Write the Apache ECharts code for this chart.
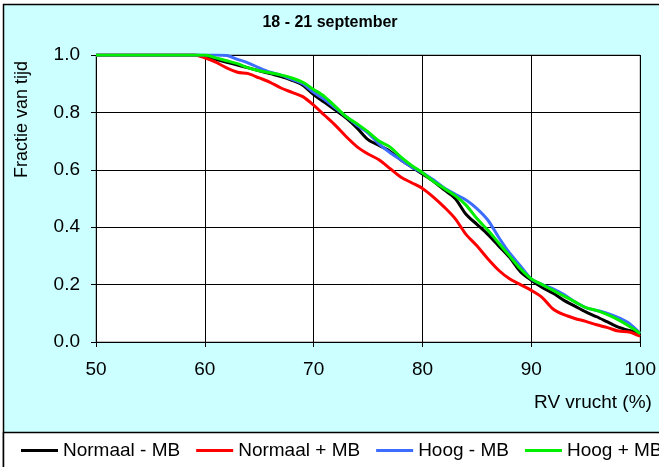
<!DOCTYPE html>
<html><head><meta charset="utf-8">
<script src="https://cdn.jsdelivr.net/npm/echarts@6/dist/echarts.min.js"></script>
<style>html,body{margin:0;padding:0;background:#fff}#c{width:659px;height:467px}</style>
</head><body><div id="c"></div>
<script>
const xValues = [50,51,52,53,54,55,56,57,58,59,60,61,62,63,64,65,66,67,68,69,70,71,72,73,74,75,76,77,78,79,80,81,82,83,84,85,86,87,88,89,90,91,92,93,94,95,96,97,98,99,100];
const normaalMin = [1,1,1,1,1,1,1,1,1,1,0.995,0.985,0.975,0.965,0.955,0.945,0.935,0.925,0.912,0.895,0.862,0.835,0.808,0.78,0.745,0.705,0.685,0.665,0.635,0.61,0.585,0.56,0.53,0.50,0.445,0.41,0.375,0.335,0.295,0.245,0.215,0.19,0.17,0.145,0.125,0.105,0.088,0.07,0.052,0.04,0.03];
const normaalPlus = [1,1,1,1,1,1,1,1,1,1,0.99,0.975,0.955,0.94,0.935,0.92,0.905,0.885,0.87,0.855,0.825,0.79,0.755,0.715,0.68,0.655,0.635,0.605,0.575,0.555,0.535,0.505,0.47,0.43,0.375,0.335,0.29,0.25,0.22,0.2,0.18,0.155,0.115,0.095,0.082,0.072,0.06,0.05,0.038,0.035,0.02];
const hoogMin = [1,1,1,1,1,1,1,1,1,1,1,1,0.998,0.985,0.972,0.955,0.94,0.93,0.915,0.9,0.87,0.845,0.815,0.785,0.755,0.728,0.69,0.66,0.635,0.61,0.59,0.565,0.537,0.515,0.495,0.465,0.425,0.365,0.31,0.265,0.22,0.2,0.185,0.165,0.14,0.12,0.11,0.1,0.085,0.065,0.03];
const hoogPlus = [1,1,1,1,1,1,1,1,1,1,1,0.99,0.98,0.97,0.955,0.945,0.938,0.93,0.92,0.905,0.88,0.855,0.82,0.785,0.76,0.732,0.7,0.68,0.645,0.615,0.59,0.56,0.535,0.51,0.477,0.43,0.39,0.345,0.3,0.255,0.22,0.2,0.18,0.16,0.14,0.12,0.11,0.095,0.077,0.055,0.03];
const seriesNames = ['Normaal - MB','Normaal + MB','Hoog - MB','Hoog + MB'];
const seriesColors = ['#000000','#FF0000','#3D6DFF','#00EE00'];
const seriesData = [normaalMin, normaalPlus, hoogMin, hoogPlus];
const titleText = '18 - 21 september';
const yName = 'Fractie van tijd';
const xName = 'RV vrucht (%)';

const font = 'Arial, "Liberation Sans", sans-serif';
const chart = echarts.init(document.getElementById('c'), null, {renderer:'canvas'});
chart.setOption({
  backgroundColor:'#fff',
  animation:false,
  graphic:[
    {type:'rect', z:-10, shape:{x:3.5,y:4.5,width:700,height:600}, style:{fill:'#CCFFFF', stroke:'#000', lineWidth:1.5}},
    {type:'rect', z:-5, shape:{x:3.5,y:432.5,width:700,height:100}, style:{fill:'#fff', stroke:'#000', lineWidth:1.5}},
    {type:'text', x:330, y:15, style:{text:titleText, font:'bold 16px '+font, fill:'#000', textAlign:'center'}},
    {type:'text', x:13, y:178, rotation:Math.PI/2, style:{text:yName, font:'18px '+font, fill:'#000'}},
    {type:'text', x:534, y:393, style:{text:xName, font:'19px '+font, fill:'#000'}}
  ],
  grid:{left:96, right:13, top:55, bottom:125, show:true, backgroundColor:'#fff', borderColor:'#808080', borderWidth:1},
  legend:{
    left:16, top:436, width:1200, itemWidth:37, itemHeight:3, itemGap:16, icon:'rect',
    textStyle:{fontFamily:font, fontSize:19, color:'#000'},
    data:seriesNames
  },
  xAxis:{
    type:'value', min:50, max:100, interval:10,
    axisLine:{show:true, lineStyle:{color:'#000', width:1}},
    axisTick:{show:true, length:5, lineStyle:{color:'#000'}},
    axisLabel:{fontFamily:font, fontSize:19, color:'#000', margin:18},
    splitLine:{show:true, lineStyle:{color:'#000', width:1}}
  },
  yAxis:{
    type:'value', min:0, max:1, interval:0.2,
    axisLine:{show:true, lineStyle:{color:'#000', width:1}},
    axisTick:{show:true, length:5, lineStyle:{color:'#000'}},
    axisLabel:{fontFamily:font, fontSize:19, color:'#000', margin:16, formatter:v=>v.toFixed(1)},
    splitLine:{show:true, lineStyle:{color:'#000', width:1}}
  },
  series: seriesNames.map((n,i)=>({
    name:n, type:'line', showSymbol:false, symbol:'none', smooth:0.3,
    data: xValues.map((x,j)=>[x, seriesData[i][j]]),
    lineStyle:{color:seriesColors[i], width:3},
    itemStyle:{color:seriesColors[i]},
    z: 2+i
  }))
});
</script></body></html>
